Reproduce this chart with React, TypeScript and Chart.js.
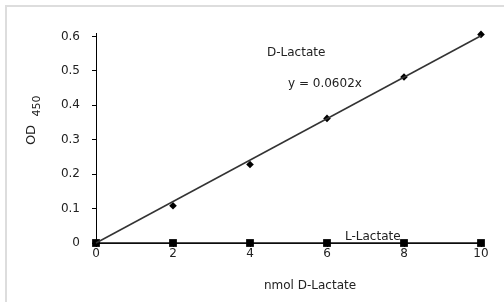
import React, { useEffect, useRef } from "react";
import { Chart, registerables } from "chart.js";

Chart.register(...registerables);

const xValues = [0, 2, 4, 6, 8, 10];
const dLactate = [0, 0.108, 0.228, 0.362, 0.482, 0.606];
const lLactate = [0, 0, 0, 0, 0, 0];
const trendX = [0, 10];
const trendY = [0, 0.602];
const yTicks = [0, 0.1, 0.2, 0.3, 0.4, 0.5, 0.6];
const xTicks = [0, 2, 4, 6, 8, 10];

const FONT = "'DejaVu Sans', sans-serif";
const TEXT = "#222";

const annotations = {
  id: "annotations",
  afterDraw(chart: any) {
    const ctx = chart.ctx;
    ctx.save();
    ctx.fillStyle = TEXT;
    ctx.textBaseline = "middle";
    ctx.textAlign = "left";
    ctx.font = `12px ${FONT}`;
    ctx.fillText("D-Lactate", 267, 53);
    ctx.fillText("y = 0.0602x", 288, 84);
    ctx.fillText("L-Lactate", 345, 237);
    ctx.textAlign = "center";
    ctx.fillText("nmol D-Lactate", 310, 286);
    // rotated y title
    ctx.translate(32, 135);
    ctx.rotate(-Math.PI / 2);
    ctx.font = `13px ${FONT}`;
    ctx.fillText("OD", 0, 0);
    ctx.font = `11px ${FONT}`;
    ctx.fillText("450", 29, 5);
    ctx.restore();
  },
};

export default function App() {
  const ref = useRef<HTMLCanvasElement | null>(null);
  useEffect(() => {
    if (!ref.current) return;
    const chart = new Chart(ref.current, {
      type: "scatter",
      data: {
        datasets: [
          {
            label: "trend",
            data: trendX.map((x, i) => ({ x, y: trendY[i] })),
            showLine: true,
            borderColor: "#333",
            borderWidth: 1.5,
            pointRadius: 0,
            clip: false as any,
          },
          {
            label: "L-Lactate",
            data: xValues.map((x, i) => ({ x, y: lLactate[i] })),
            showLine: true,
            borderColor: "#111",
            backgroundColor: "#000",
            borderWidth: 1.5,
            pointStyle: "rect",
            pointRadius: 5.5,
            pointBorderWidth: 0,
            clip: false as any,
          },
          {
            label: "D-Lactate",
            data: xValues.map((x, i) => ({ x, y: dLactate[i] })),
            showLine: false,
            backgroundColor: "#000",
            borderColor: "#000",
            pointStyle: "rectRot",
            pointRadius: 3.8,
            pointBorderWidth: 0,
            clip: false as any,
          },
        ],
      },
      options: {
        responsive: false,
        animation: false,
        devicePixelRatio: 1,
        layout: { padding: { left: 0, right: 23, top: 33, bottom: 0 } },
        plugins: { legend: { display: false }, tooltip: { enabled: false } },
        scales: {
          x: {
            type: "linear",
            min: 0,
            max: 10,
            afterBuildTicks: (s: any) => {
              s.ticks = xTicks.map((v) => ({ value: v }));
            },
            afterFit: (s: any) => {
              s.height = 59;
            },
            border: { display: true, color: "#000", width: 1 },
            grid: { display: true, drawOnChartArea: false, drawTicks: true, tickLength: 4, color: "#000" },
            ticks: {
              color: TEXT,
              font: { family: FONT, size: 12 },
              padding: 0,
              maxRotation: 0,
              callback: (v: any) => String(v),
            },
          },
          y: {
            type: "linear",
            min: 0,
            max: 0.61,
            afterBuildTicks: (s: any) => {
              s.ticks = yTicks.map((v) => ({ value: v }));
            },
            afterFit: (s: any) => {
              s.width = 96;
            },
            border: { display: true, color: "#000", width: 1 },
            grid: { display: true, drawOnChartArea: false, drawTicks: true, tickLength: 4, color: "#000" },
            ticks: {
              color: TEXT,
              font: { family: FONT, size: 12 },
              padding: 12,
              callback: (v: any) => (v === 0 ? "0" : Number(v).toFixed(1)),
            },
          },
        },
      },
      plugins: [annotations],
    });
    return () => chart.destroy();
  }, []);

  return (
    <div style={{ position: "fixed", left: 0, top: 0, width: 504, height: 302, background: "#fff", overflow: "hidden" }}>
      <canvas ref={ref} width={504} height={302} style={{ position: "absolute", left: 0, top: 0, width: 504, height: 302 }} />
      <div style={{ position: "absolute", left: 5, top: 5, width: 499, height: 2, background: "#ddd" }} />
      <div style={{ position: "absolute", left: 5, top: 5, width: 2, height: 297, background: "#ddd" }} />
    </div>
  );
}
